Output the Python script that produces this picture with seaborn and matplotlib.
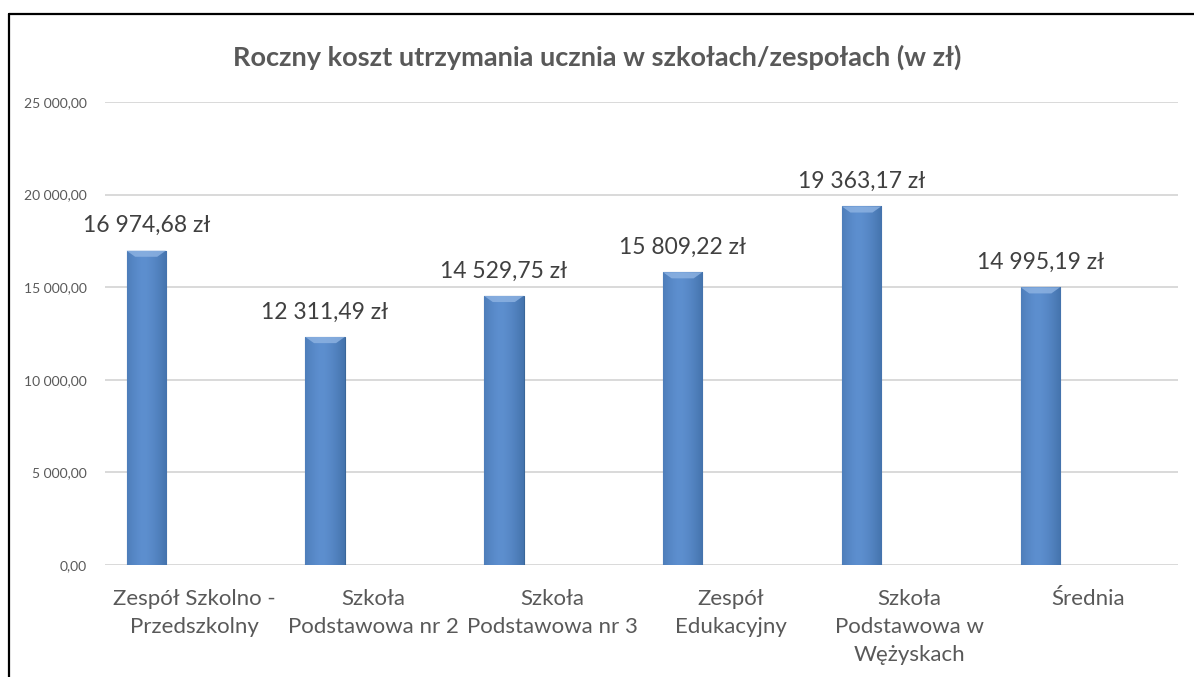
import numpy as np
import pandas as pd
import matplotlib
matplotlib.use('Agg')
import matplotlib.pyplot as plt
from matplotlib.lines import Line2D
import seaborn as sns

sns.set_theme(style='white')
plt.rcParams['font.family'] = ['Lato', 'DejaVu Sans']

categories = ['Zespół Szkolno -\nPrzedszkolny', 'Szkoła\nPodstawowa nr 2', 'Szkoła\nPodstawowa nr 3',
              'Zespół\nEdukacyjny', 'Szkoła\nPodstawowa w\nWężyskach', 'Średnia']
costs = [16974.68, 12311.49, 14529.75, 15809.22, 19363.17, 14995.19]
y_ticks = [0, 5000, 10000, 15000, 20000, 25000]


def pl_format(v, suffix=''):
    s = f'{v:,.2f}'.replace(',', ' ').replace('.', ',')
    return s + suffix


df = pd.DataFrame({'kategoria': categories, 'koszt': costs})

fig = plt.figure(figsize=(11.94, 6.77), dpi=100)
ax = fig.add_axes([0.088, 0.1654, 0.8986, 0.6839])

sns.barplot(data=df, x='kategoria', y='koszt', color='#4f81bd', width=0.22,
            edgecolor='#3a6799', linewidth=0.8, ax=ax, zorder=3)

# bars sit left of the category centre (like the empty 2nd series in Excel)
shift = -0.27
grad = np.linspace(0, 1, 64)
grad = 1 - 0.55 * np.abs(grad - 0.42) ** 1.5 * 2.2
grad = np.clip(grad, 0, 1)[None, :]
cmap = matplotlib.colors.LinearSegmentedColormap.from_list('bev', ['#2f5b8f', '#5d8fcf'])
for p, v in zip(ax.patches, costs):
    p.set_x(p.get_x() + shift)
    x0, w = p.get_x(), p.get_width()
    im = ax.imshow(grad, extent=(x0, x0 + w, 0, v), aspect='auto', cmap=cmap,
                   vmin=0, vmax=1, zorder=3.5, origin='lower')
    im.set_clip_path(p)
    # top bevel
    bh = 330
    ax.fill([x0, x0 + w, x0 + w * 0.78, x0 + w * 0.22], [v, v, v - bh, v - bh],
            color='#8fb4e3', alpha=0.8, zorder=4, lw=0)
    ax.text(x0 + w / 2, v + 1350, pl_format(v, ' zł'), ha='center', va='center',
            fontsize=16.5, color='#404040', zorder=5)

ax.set_xlim(-0.5, len(categories) - 0.5)
ax.set_ylim(0, 25000)
ax.set_yticks(y_ticks)
ax.set_yticklabels([pl_format(t) for t in y_ticks], fontsize=10, color='#595959')
ax.tick_params(axis='x', labelsize=16, labelcolor='#595959', length=0, pad=17)
ax.tick_params(axis='y', length=0, pad=13)
for lab in ax.get_xticklabels():
    lab.set_linespacing(1.5)
    lab.set_verticalalignment('top')
ax.grid(axis='y', color='#d9d9d9', linewidth=1.4, zorder=0)
ax.set_axisbelow(True)
ax.set_xlabel('')
ax.set_ylabel('')
for s in ax.spines.values():
    s.set_visible(False)

fig.text(0.5, 0.916, 'Roczny koszt utrzymania ucznia w szkołach/zespołach (w zł)',
         ha='center', va='center', fontsize=19.5, fontweight='bold', color='#595959')

# chart frame (top and left edges)
fig.add_artist(Line2D([0.0075, 1.0], [0.979, 0.979], color='black', lw=1.6))
fig.add_artist(Line2D([0.0075, 0.0075], [0.0, 0.979], color='black', lw=1.6))

fig.savefig('out.png', dpi=100)
